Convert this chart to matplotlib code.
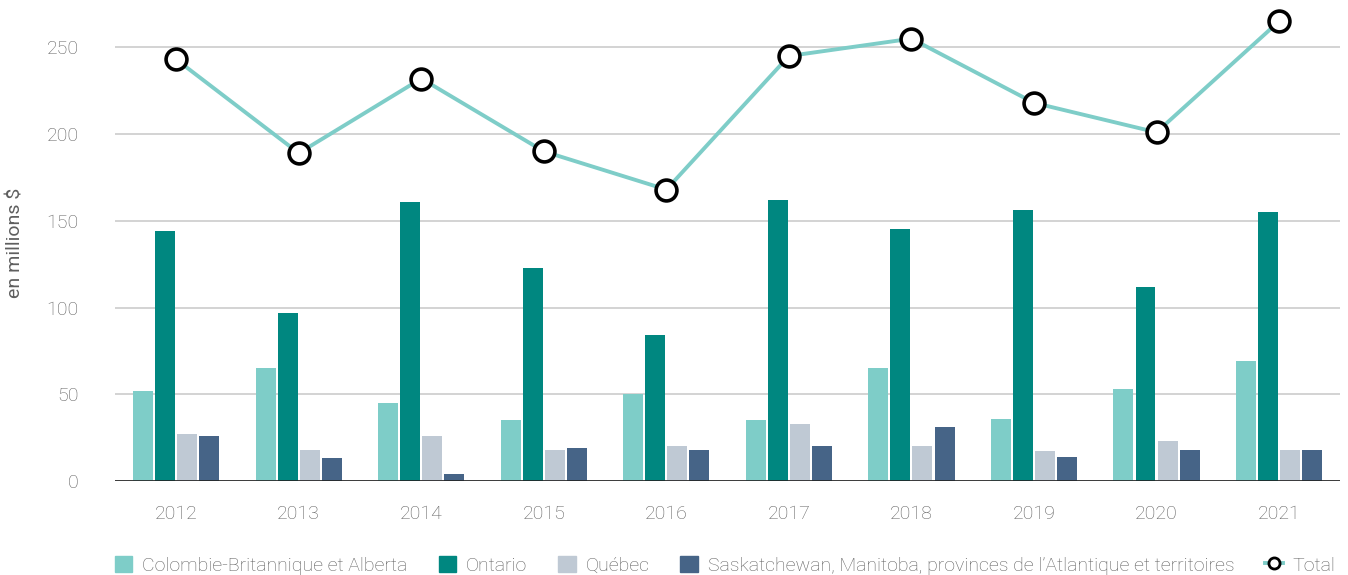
import matplotlib
matplotlib.use("Agg")
import matplotlib.pyplot as plt
import numpy as np
from matplotlib.patches import Patch
from matplotlib.lines import Line2D

years = ["2012", "2013", "2014", "2015", "2016", "2017", "2018", "2019", "2020", "2021"]
cb_alberta = [52, 65, 45, 35, 50, 35, 65, 36, 53, 69]
ontario = [144, 97, 161, 123, 84, 162, 145, 156, 112, 155]
quebec = [27, 18, 26, 18, 20, 33, 20, 17, 23, 18]
sask_atl = [26, 13, 4, 19, 18, 20, 31, 14, 18, 18]
total = [243, 189, 232, 190, 168, 245, 255, 218, 201, 265]

series_names = ["Colombie-Britannique et Alberta", "Ontario", "Québec",
                "Saskatchewan, Manitoba, provinces de l\u2019Atlantique et territoires"]
series_vals = [cb_alberta, ontario, quebec, sask_atl]
colors = ["#7ECDC8", "#008780", "#BFC9D4", "#466487"]
LINE = "#7ECDC8"
TXT = "#5e5e5e"
FS = 14

plt.rcParams["font.family"] = ["Roboto", "DejaVu Sans"]
plt.rcParams["font.weight"] = "light"

fig = plt.figure(figsize=(13.48, 5.75), dpi=100)
ax = fig.add_axes([0.0853, 0.1635, 0.909, 0.8296])

x = np.arange(len(years))
w = 0.163
step = 0.18
for i, (vals, c) in enumerate(zip(series_vals, colors)):
    ax.bar(x + (i - 1.5) * step, vals, width=w, color=c, zorder=2)

ax.plot(x, total, color=LINE, lw=2.8, marker="o", markersize=15,
        markerfacecolor="white", markeredgecolor="black", markeredgewidth=2.6, zorder=3)

ax.set_xlim(-0.5, len(years) - 0.5)
ax.set_ylim(0, 275)
ax.set_yticks([0, 50, 100, 150, 200, 250])
ax.yaxis.grid(True, color="#cccccc", lw=1.2, zorder=0)
ax.set_axisbelow(True)
ax.axhline(0, color="#222222", lw=1.2, zorder=4)
for s in ax.spines.values():
    s.set_visible(False)
ax.set_xticks(x)
ax.set_xticklabels(years)
ax.tick_params(axis="both", length=0, labelsize=FS, labelcolor=TXT)
ax.tick_params(axis="x", pad=17)
ax.tick_params(axis="y", pad=26)
ax.set_ylabel("en millions $", fontsize=FS, color=TXT, labelpad=16)

handles = [Patch(color=c) for c in colors]
handles.append(Line2D([], [], color=LINE, lw=2.8, marker="o", markersize=8,
                      markerfacecolor="white", markeredgecolor="black", markeredgewidth=2))
fig.legend(handles, series_names + ["Total"], loc="lower center", ncol=5,
           bbox_to_anchor=(0.538, -0.03), frameon=False, fontsize=FS,
           labelcolor=TXT, handlelength=0.9, handleheight=0.9, handletextpad=0.5,
           columnspacing=1.6)

fig.savefig("out.png", dpi=100)
